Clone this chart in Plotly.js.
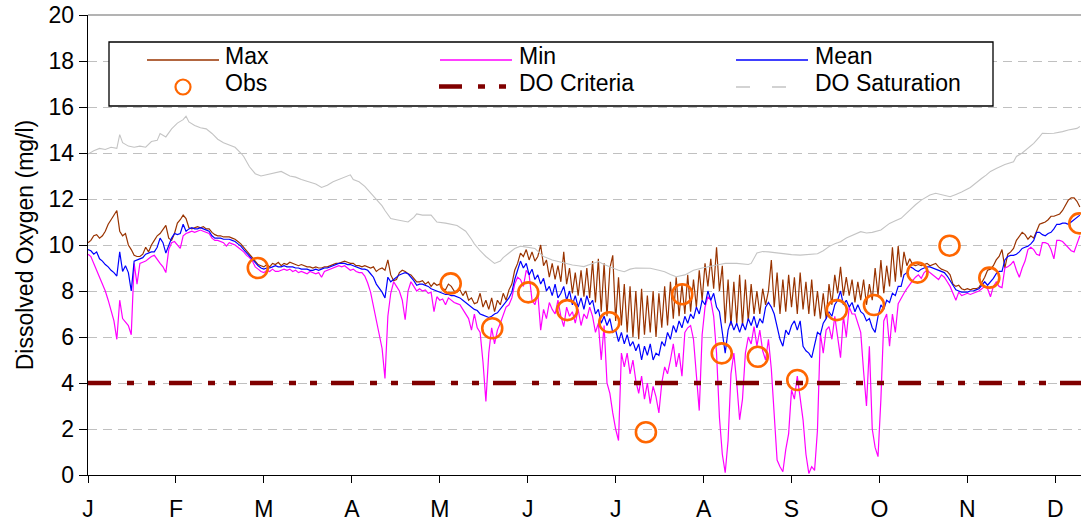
<!DOCTYPE html>
<html><head><meta charset="utf-8">
<script src="https://cdn.plot.ly/plotly-3.0.1.min.js"></script>
<style>html,body{margin:0;padding:0;background:#fff}#chart{width:1081px;height:523px}</style>
</head><body><div id="chart"></div>
<script>
// x axis: day of year; month ticks
const monthTickDays = [0, 30.5, 61, 91.5, 122, 152.5, 183, 213.5, 244, 274.5, 305, 335.5];
const monthLabels = ['J','F','M','A','M','J','J','A','S','O','N','D'];

// daily series, day 0..344
const maxDO = [
10.1,10.2,10.4,10.45,10.3,10.4,10.6,10.9,11.1,11.3,
11.5,10.6,10.4,10.5,10.0,9.8,9.55,9.5,9.5,9.6,
9.9,9.7,10.0,10.2,10.4,10.5,10.7,10.85,10.3,10.2,
10.5,10.95,11.1,11.3,11.15,10.75,10.7,10.75,10.8,10.75,
10.8,10.7,10.7,10.55,10.45,10.4,10.4,10.35,10.35,10.35,
10.3,10.25,10.15,10.05,9.9,9.75,9.6,9.45,9.3,9.15,
9.1,9.05,9.15,9.05,9.2,9.15,9.25,9.1,9.2,9.15,
9.25,9.2,9.15,9.1,9.15,9.1,9.05,9.05,9.0,9.05,
9.0,9.0,9.05,9.05,9.1,9.15,9.2,9.2,9.25,9.3,
9.25,9.2,9.2,9.1,9.1,9.05,9.1,9.05,9.0,9.05,
8.85,8.95,9.0,8.9,9.35,8.7,8.45,8.5,8.8,8.9,
8.85,8.75,8.7,8.55,8.4,8.4,8.45,8.3,8.4,8.2,
8.35,8.25,8.3,8.1,8.05,8.3,8.2,8.0,7.95,8.05,
7.8,8.0,7.6,7.7,7.45,7.5,7.9,7.3,7.6,7.2,
7.7,7.1,7.6,7.4,7.9,7.6,8.05,8.3,8.9,9.2,
9.65,9.5,9.8,9.35,9.7,9.3,9.5,10.0,9.1,9.35,
8.6,9.2,8.5,9.1,8.4,9.7,8.3,9.0,7.9,8.8,
7.8,8.9,7.75,9.0,7.7,9.3,7.5,9.4,7.1,9.2,
6.9,9.0,9.55,6.7,8.6,6.5,8.3,6.2,8.2,6.0,
8.0,5.9,8.1,6.1,7.8,6.2,8.0,6.0,7.9,6.4,
8.2,6.5,8.4,6.8,8.6,6.9,8.3,7.0,8.7,7.1,
8.5,7.3,8.9,7.6,9.2,8.2,9.4,8.1,9.9,8.0,
9.1,6.6,8.5,6.5,8.4,6.6,8.7,6.5,8.5,6.7,
8.3,7.0,8.0,7.0,8.1,7.4,8.0,9.35,7.3,8.8,
7.0,8.5,7.1,8.7,7.3,8.6,7.0,8.8,7.2,8.4,
7.0,8.5,6.9,8.0,6.8,7.9,6.8,8.3,7.4,8.7,
7.9,9.05,7.8,8.6,7.8,8.5,7.5,8.4,7.6,8.5,
7.4,8.3,7.6,9.0,7.8,9.35,7.9,9.1,8.2,9.9,
8.4,9.95,8.6,9.7,9.1,9.4,9.15,9.1,9.15,9.1,
9.15,9.2,9.1,9.15,9.2,9.05,8.95,8.9,8.85,8.7,
8.3,8.2,8.25,8.1,8.05,8.1,8.05,8.1,8.1,8.15,
8.35,8.6,8.9,8.95,9.1,9.35,9.5,9.8,9.0,9.6,
9.7,9.85,10.2,10.4,10.55,10.45,10.25,10.4,10.3,10.6,
10.9,10.95,11.0,11.1,11.25,11.25,11.3,11.35,11.5,11.75,
11.95,12.05,12.05,11.9,11.65
];
const minDO = [
9.6,9.5,9.2,8.9,8.6,8.35,8.0,7.6,7.2,6.7,
5.9,7.6,6.8,6.65,6.5,6.1,9.2,8.3,9.2,9.25,
9.3,9.4,9.5,9.55,9.35,9.2,9.05,8.8,9.8,10.1,
10.15,10.0,9.85,10.4,10.5,10.55,10.6,10.55,10.6,10.65,
10.6,10.55,10.5,10.3,10.2,10.2,10.15,10.1,9.95,10.1,
10.05,10.0,9.9,9.8,9.7,9.55,9.45,9.3,9.05,8.95,
8.85,8.8,8.9,8.85,8.95,8.85,8.85,8.9,8.95,8.9,
8.95,8.85,8.9,8.8,8.85,8.8,8.75,8.85,8.8,8.75,
8.8,8.6,8.85,8.9,8.95,9.0,9.05,9.1,9.05,9.1,
9.0,8.9,8.95,8.85,8.8,8.8,8.65,8.35,7.95,7.3,
6.8,6.1,5.5,4.2,6.9,7.9,8.4,8.2,8.0,7.6,
6.75,8.0,8.4,8.2,8.0,8.1,8.0,8.05,7.9,7.95,
7.1,7.75,7.6,7.65,7.4,7.7,7.6,7.5,7.45,7.4,
7.2,7.0,6.8,6.3,7.0,6.4,6.2,4.9,3.2,5.3,
6.4,5.7,6.3,6.6,7.0,7.3,7.4,7.7,8.3,8.6,
8.5,8.2,8.9,8.7,7.6,7.4,7.9,6.3,7.2,6.8,
7.5,7.2,7.0,7.6,6.9,6.45,7.3,6.9,7.1,6.6,
7.2,6.5,7.0,6.8,7.3,6.9,6.2,6.6,5.0,6.5,
4.0,3.55,2.7,2.0,1.5,5.3,4.7,5.3,4.4,5.0,
4.1,3.55,4.3,3.3,4.0,3.1,3.85,3.4,2.7,4.0,
4.7,4.4,5.0,5.7,4.7,5.3,4.3,6.2,6.4,6.5,
5.9,4.5,2.8,6.1,7.3,7.75,7.6,6.9,5.3,2.5,
0.9,0.1,1.5,4.4,5.3,4.0,2.4,3.3,5.3,6.0,
5.7,6.45,5.6,6.3,5.4,5.0,5.9,4.6,2.5,0.65,
0.36,0.14,1.1,1.8,3.7,3.3,4.3,3.3,2.4,0.9,
0.07,0.36,0.2,1.96,6.16,5.3,6.3,6.45,5.9,6.9,
6.0,5.1,6.9,6.0,7.3,7.0,7.0,6.6,6.2,4.5,
3.0,5.6,2.0,1.2,0.8,3.3,6.7,7.0,5.6,7.0,
6.2,7.45,7.7,7.9,8.1,8.3,8.45,8.6,8.7,8.55,
8.8,8.9,8.8,8.7,8.6,8.5,8.7,8.6,8.4,8.2,
7.9,7.6,7.95,7.8,7.85,7.9,7.85,7.9,7.95,8.0,
8.1,8.2,8.1,7.75,8.2,8.4,8.2,8.15,9.0,9.05,
9.15,9.3,8.9,8.6,9.0,9.3,9.8,9.9,9.8,9.6,
9.55,10.1,10.1,10.05,9.8,9.4,10.2,10.2,10.15,10.0,
9.9,9.75,9.7,10.1,10.4
];
const meanDO = [
9.8,9.75,9.6,9.7,9.4,9.3,9.15,9.05,8.9,8.8,
8.65,9.7,8.85,9.1,8.8,8.0,9.3,9.35,9.4,9.45,
9.6,9.65,9.7,9.7,9.9,10.3,10.1,9.65,10.0,10.3,
10.5,10.45,10.5,10.9,10.6,10.7,10.75,10.7,10.7,10.75,
10.7,10.65,10.6,10.4,10.3,10.3,10.3,10.25,10.25,10.25,
10.2,10.15,10.05,9.95,9.8,9.65,9.55,9.4,9.2,9.1,
9.0,8.95,9.0,9.0,9.05,9.1,9.05,9.05,9.1,9.05,
9.05,9.05,9.0,9.0,8.95,8.95,8.95,8.9,8.9,8.95,
8.9,8.95,9.0,9.0,9.05,9.1,9.15,9.2,9.2,9.2,
9.15,9.15,9.1,9.05,9.0,8.95,8.95,8.9,8.75,8.6,
8.3,8.15,7.95,7.7,8.6,8.4,8.5,8.6,8.7,8.75,
8.8,8.75,8.6,8.45,8.25,8.3,8.3,8.25,8.2,8.1,
8.05,8.0,7.95,7.9,7.85,7.85,7.8,7.8,7.75,7.7,
7.6,7.5,7.4,7.3,7.2,7.15,7.0,6.95,6.9,6.85,
6.9,7.0,7.05,7.2,7.35,7.5,7.7,7.95,8.5,8.9,
9.3,9.0,9.2,8.7,8.95,8.5,8.7,8.3,8.55,8.0,
8.2,7.8,8.3,7.7,7.9,8.2,7.6,8.0,7.4,7.8,
7.3,7.7,7.2,7.8,7.4,7.6,7.0,7.2,6.6,6.9,
6.5,6.8,6.2,6.3,5.8,6.2,5.7,6.1,5.6,5.8,
5.4,5.7,5.0,5.6,5.2,5.7,5.0,5.3,5.2,5.8,
5.6,6.2,5.9,6.5,6.2,6.7,6.4,6.9,6.6,7.0,
6.8,7.3,7.0,7.6,7.4,8.0,7.6,7.9,7.3,7.1,
6.3,5.3,6.3,6.7,6.3,6.6,6.2,6.6,6.3,6.8,
6.5,6.9,6.4,6.8,6.6,7.3,7.5,7.3,7.0,6.4,
5.9,5.6,6.3,6.1,6.5,6.7,6.3,6.7,5.6,5.4,
5.3,5.1,5.6,6.2,6.1,6.6,6.8,7.1,6.9,7.4,
7.6,8.0,7.4,7.6,7.3,7.5,7.1,7.4,7.1,7.0,
6.7,6.8,6.4,6.2,6.9,7.4,7.2,7.6,7.5,7.9,
7.8,8.2,8.2,8.7,8.8,9.05,9.0,8.9,8.85,8.95,
9.0,9.05,9.05,9.0,8.95,8.9,8.85,8.8,8.65,8.45,
8.2,8.05,8.0,7.95,7.95,7.95,8.0,8.0,8.05,8.1,
8.25,8.4,8.25,8.4,8.55,8.75,8.85,8.85,9.35,9.5,
9.55,9.55,9.6,9.7,9.85,9.9,9.95,10.05,10.2,10.55,
10.55,10.45,10.4,10.5,10.55,10.7,10.9,10.9,10.95,10.95,
10.9,11.0,11.1,11.2,11.3
];

// DO saturation, read points (day, mg/l)
const satDay = [0,2,4,6,8,10,11,12,14,16,18,20,22,24,25,27,29,31,33,34,35,37,39,41,43,45,47,49,51,53,54,56,58,60,63,65,67,70,72,74,77,79,81,83,85,88,91,92,94,96,97,99,100,102,103,105,107,109,111,113,114,116,119,121,124,128,130,131,133,134,136,138,140,141,143,144,146,148,150,152,155,157,158,161,163,166,168,170,172,175,177,179,181,184,186,188,190,193,195,198,200,202,204,207,210,213,216,219,221,225,229,230,232,234,236,239,241,244,247,250,253,255,257,259,261,263,264,266,268,270,272,275,277,278,280,282,284,285,287,289,292,294,296,299,301,303,306,308,310,311.5,313,315,318,321,322,324,326,328,330,331,333,335,338,340,343,344];
const satDO = [13.95,14.1,14.2,14.15,14.25,14.2,14.8,14.45,14.3,14.25,14.3,14.25,14.5,14.55,14.85,14.7,15.05,15.3,15.45,15.6,15.35,15.2,15.1,15.05,14.85,14.6,14.45,14.35,14.25,14.0,13.85,13.4,13.1,13.0,13.1,13.15,13.2,13.0,12.95,12.85,12.75,12.65,12.5,12.6,12.75,12.9,13.05,12.85,12.75,12.55,12.4,12.15,12.0,11.7,11.5,11.15,11.1,11.05,11.0,11.2,11.35,11.3,11.3,11.0,10.95,10.85,10.7,10.6,10.25,10.05,9.75,9.5,9.3,9.2,9.3,9.45,9.65,9.85,9.95,9.9,9.85,9.6,9.5,9.35,9.28,9.2,9.13,9.1,9.06,9.2,9.28,9.15,9.05,8.9,8.84,8.95,9.0,8.98,8.99,8.9,8.84,8.72,8.62,8.7,8.9,9.0,9.06,9.15,9.2,9.2,9.15,9.2,9.65,9.72,9.7,9.65,9.6,9.58,9.56,9.6,9.62,9.75,9.93,10.05,10.14,10.3,10.36,10.48,10.58,10.52,10.55,10.65,10.85,10.94,11.05,11.16,11.4,11.52,11.75,11.95,12.17,12.25,12.2,12.1,12.2,12.3,12.5,12.68,12.9,13.04,13.2,13.33,13.5,13.62,13.85,14.0,14.2,14.42,14.7,14.86,14.85,14.86,14.93,15.0,15.07,15.15];

// observations
const obsDay = [58.9,125.8,140.2,152.7,166.2,180.8,193.5,206.1,219.8,232.3,246.0,259.7,272.6,287.7,298.8,312.6,343.8];
const obsDO = [9.0,8.33,6.38,7.94,7.17,6.64,1.86,7.86,5.29,5.14,4.13,7.17,7.39,8.8,9.97,8.58,10.94];

// DO criteria
const critDay = [0, 345];
const critDO = [4, 4];

const legendNames = ['Max','Min','Mean','Obs','DO Criteria','DO Saturation'];

const days = maxDO.map((_, i) => i);
const FONT = 'Liberation Sans, Arial, sans-serif';
const FS = 23;
const C = {max:'#993300', min:'#FF00FF', mean:'#0000FF', obs:'#FF6600', crit:'#800000', sat:'#C4C4C4'};
const CRIT_DASH = '23px,16px,7px,14px,7px,14px';

const traces = [
  {x: days, y: maxDO, name: legendNames[0], type:'scatter', mode:'lines', line:{color:C.max, width:1.2}},
  {x: days, y: minDO, name: legendNames[1], type:'scatter', mode:'lines', line:{color:C.min, width:1.2}},
  {x: days, y: meanDO, name: legendNames[2], type:'scatter', mode:'lines', line:{color:C.mean, width:1.2}},
  {x: obsDay, y: obsDO, name: legendNames[3], type:'scatter', mode:'markers',
   marker:{symbol:'circle-open', size:20, color:C.obs, line:{width:2.6, color:C.obs}}},
  {x: critDay, y: critDO, name: legendNames[4], type:'scatter', mode:'lines', line:{color:C.crit, width:4.3, dash:CRIT_DASH}},
  {x: satDay, y: satDO, name: legendNames[5], type:'scatter', mode:'lines', line:{color:C.sat, width:1.1}}
];
traces.forEach(t => t.showlegend = false);

// pixel helpers for the legend box (plot area: x 88..1081, y 15..475)
const L = 88, W = 993, T = 15, H = 460;
const px = v => (v - L) / W;
const py = v => (T + H - v) / H;

const shapes = [
  {type:'line', xref:'paper', yref:'paper', x0:0, x1:1, y0:1, y1:1, line:{color:'#9a9a9a', width:1.5}},
  {type:'rect', xref:'paper', yref:'paper', x0:px(109), x1:px(993), y0:py(106), y1:py(42),
   fillcolor:'#ffffff', line:{color:'#000000', width:1.3}},
  {type:'line', xref:'paper', yref:'paper', x0:px(147), x1:px(219), y0:py(60), y1:py(60), line:{color:C.max, width:1.5}},
  {type:'line', xref:'paper', yref:'paper', x0:px(440), x1:px(512), y0:py(60), y1:py(60), line:{color:C.min, width:1.5}},
  {type:'line', xref:'paper', yref:'paper', x0:px(736), x1:px(808), y0:py(60), y1:py(60), line:{color:C.mean, width:1.5}},
  {type:'circle', xref:'paper', yref:'paper', xsizemode:'pixel', ysizemode:'pixel',
   xanchor:px(183), yanchor:py(87), x0:-7.5, x1:7.5, y0:-7.5, y1:7.5, line:{color:C.obs, width:2.2}},
  {type:'line', xref:'paper', yref:'paper', x0:px(439), x1:px(507), y0:py(86.5), y1:py(86.5), line:{color:C.crit, width:4.3, dash:CRIT_DASH}},
  {type:'line', xref:'paper', yref:'paper', x0:px(736), x1:px(808), y0:py(87), y1:py(87), line:{color:C.sat, width:1.5, dash:'14px,22px'}}
];

const legendPos = [[223,56],[517,56],[813,56],[223,82.5],[517,82.5],[813,82.5]];
const annotations = legendNames.map((n, i) => ({
  text: n, xref:'paper', yref:'paper', x: px(legendPos[i][0]), y: py(legendPos[i][1]),
  xanchor:'left', yanchor:'middle', showarrow:false, font:{family:FONT, size:FS, color:'#000'}
}));

const layout = {
  width:1081, height:523,
  margin:{l:88, r:0, t:15, b:48, pad:0},
  paper_bgcolor:'#ffffff', plot_bgcolor:'#ffffff',
  font:{family:FONT, size:FS, color:'#000'},
  showlegend:false,
  xaxis:{range:[0,344.4], tickmode:'array', tickvals:monthTickDays, ticktext:monthLabels,
    ticks:'outside', ticklen:7, tickwidth:1, tickcolor:'#000', showline:true, linecolor:'#000', linewidth:1.3,
    ticklabelstandoff:6,
    showgrid:false, zeroline:false, tickfont:{family:FONT, size:FS, color:'#000'}},
  yaxis:{range:[0,20], tick0:0, dtick:2, ticks:'outside', ticklen:8, tickwidth:1, tickcolor:'#000',
    showline:true, linecolor:'#000', linewidth:1.3, showgrid:true, gridcolor:'#c0c0c0', gridwidth:1, griddash:'9px,6px',
    zeroline:false, tickfont:{family:FONT, size:FS, color:'#000'},
    title:{text:'Dissolved Oxygen (mg/l)', font:{family:FONT, size:FS, color:'#000'}, standoff:8}},
  shapes: shapes,
  annotations: annotations
};

Plotly.newPlot('chart', traces, layout, {staticPlot:true, displayModeBar:false});
</script>
</body></html>
